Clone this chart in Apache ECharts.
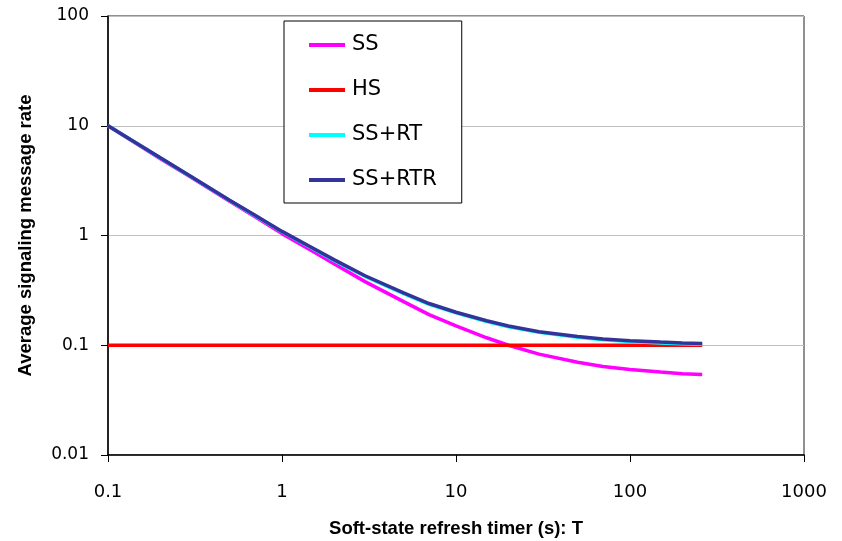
<!DOCTYPE html>
<html>
<head>
<meta charset="utf-8">
<script src="https://cdn.jsdelivr.net/npm/echarts@6/dist/echarts.min.js"></script>
<style>
  html, body { margin: 0; padding: 0; background: #fff; }
  #chart { width: 842px; height: 541px; }
</style>
</head>
<body>
<div id="chart"></div>
<script>
// refresh timer T (s)
const timerT = [0.1, 0.2, 0.3, 0.5, 0.7, 1, 1.5, 2, 3, 5, 7, 10, 15, 20, 30, 50, 70, 100, 150, 200, 260];
const ssRate = [10, 5.0, 3.4, 2.05, 1.48, 1.04, 0.72, 0.55, 0.38, 0.25, 0.19, 0.15, 0.117, 0.1, 0.083, 0.07, 0.064, 0.06, 0.057, 0.055, 0.054];
const hsRate = [0.1, 0.1, 0.1, 0.1, 0.1, 0.1, 0.1, 0.1, 0.1, 0.1, 0.1, 0.1, 0.1, 0.1, 0.1, 0.1, 0.1, 0.1, 0.1, 0.1, 0.1];
const ssRtRate = [10, 5.08, 3.43, 2.08, 1.51, 1.08, 0.76, 0.59, 0.425, 0.295, 0.236, 0.197, 0.164, 0.147, 0.131, 0.118, 0.112, 0.108, 0.105, 0.103, 0.102];
const ssRtrRate = [10, 5.1, 3.45, 2.1, 1.53, 1.09, 0.77, 0.6, 0.43, 0.3, 0.24, 0.2, 0.167, 0.15, 0.133, 0.12, 0.114, 0.11, 0.107, 0.105, 0.104];
const xTicks = ["0.1", "1", "10", "100", "1000"];
const yTicks = ["0.01", "0.1", "1", "10", "100"];

const chart = echarts.init(document.getElementById("chart"));

const pairs = (vals) => timerT.map((t, i) => [t, vals[i]]);
const lineSeries = (name, vals, color) => ({
  name: name,
  type: "line",
  data: pairs(vals),
  showSymbol: false,
  symbol: "none",
  smooth: false,
  lineStyle: { color: color, width: 3.5 },
  itemStyle: { color: color },
  animation: false,
});

const tickLabel = (v) => String(+v.toPrecision(6));

const option = {
  backgroundColor: "#fff",
  grid: {
    left: 108,
    right: 38,
    top: 16,
    bottom: 86,
    outerBoundsMode: "none",
    containLabel: false,
    show: true,
    borderColor: "#222",
    borderWidth: 1,
  },
  legend: {
    orient: "vertical",
    left: 284,
    top: 21,
    backgroundColor: "#fff",
    borderColor: "#000",
    borderWidth: 1,
    padding: [12, 25, 11, 25],
    itemGap: 21,
    itemWidth: 36,
    itemHeight: 4,
    icon: "rect",
    textStyle: {
      fontFamily: "DejaVu Sans",
      fontSize: 21,
      color: "#000",
      lineHeight: 24,
      padding: [0, 0, 0, 2],
    },
    data: ["SS", "HS", "SS+RT", "SS+RTR"],
  },
  xAxis: {
    type: "log",
    logBase: 10,
    min: 0.1,
    max: 1000,
    name: "Soft-state refresh timer (s): T",
    nameLocation: "middle",
    nameGap: 64,
    nameTextStyle: {
      fontFamily: "Liberation Sans",
      fontWeight: "bold",
      fontSize: 18.5,
      color: "#000",
    },
    axisLine: { show: true, lineStyle: { color: "#000", width: 1.5 } },
    axisTick: { show: true, length: 7, inside: false, lineStyle: { color: "#000" } },
    axisLabel: {
      margin: 28,
      fontFamily: "DejaVu Sans",
      fontSize: 18,
      color: "#000",
      formatter: (v) => {
        const s = tickLabel(v);
        return xTicks.includes(s) ? s : "";
      },
    },
    splitLine: { show: false },
    minorTick: { show: false },
  },
  yAxis: {
    type: "log",
    logBase: 10,
    min: 0.01,
    max: 100,
    name: "Average signaling message rate",
    nameLocation: "middle",
    nameGap: 73,
    nameRotate: 90,
    nameTextStyle: {
      fontFamily: "Liberation Sans",
      fontWeight: "bold",
      fontSize: 18.5,
      color: "#000",
    },
    axisLine: { show: true, lineStyle: { color: "#000", width: 1.5 } },
    axisTick: { show: true, length: 7, inside: false, lineStyle: { color: "#000" } },
    axisLabel: {
      margin: 19,
      fontFamily: "DejaVu Sans",
      fontSize: 17,
      color: "#000",
      formatter: (v) => {
        const s = tickLabel(v);
        return yTicks.includes(s) ? s : "";
      },
    },
    splitLine: { show: true, lineStyle: { color: "#c0c0c0", width: 1 } },
    minorTick: { show: false },
  },
  series: [
    lineSeries("SS", ssRate, "#ff00ff"),
    lineSeries("HS", hsRate, "#ff0000"),
    lineSeries("SS+RT", ssRtRate, "#00ffff"),
    lineSeries("SS+RTR", ssRtrRate, "#333399"),
  ],
};

chart.setOption(option);
</script>
</body>
</html>
